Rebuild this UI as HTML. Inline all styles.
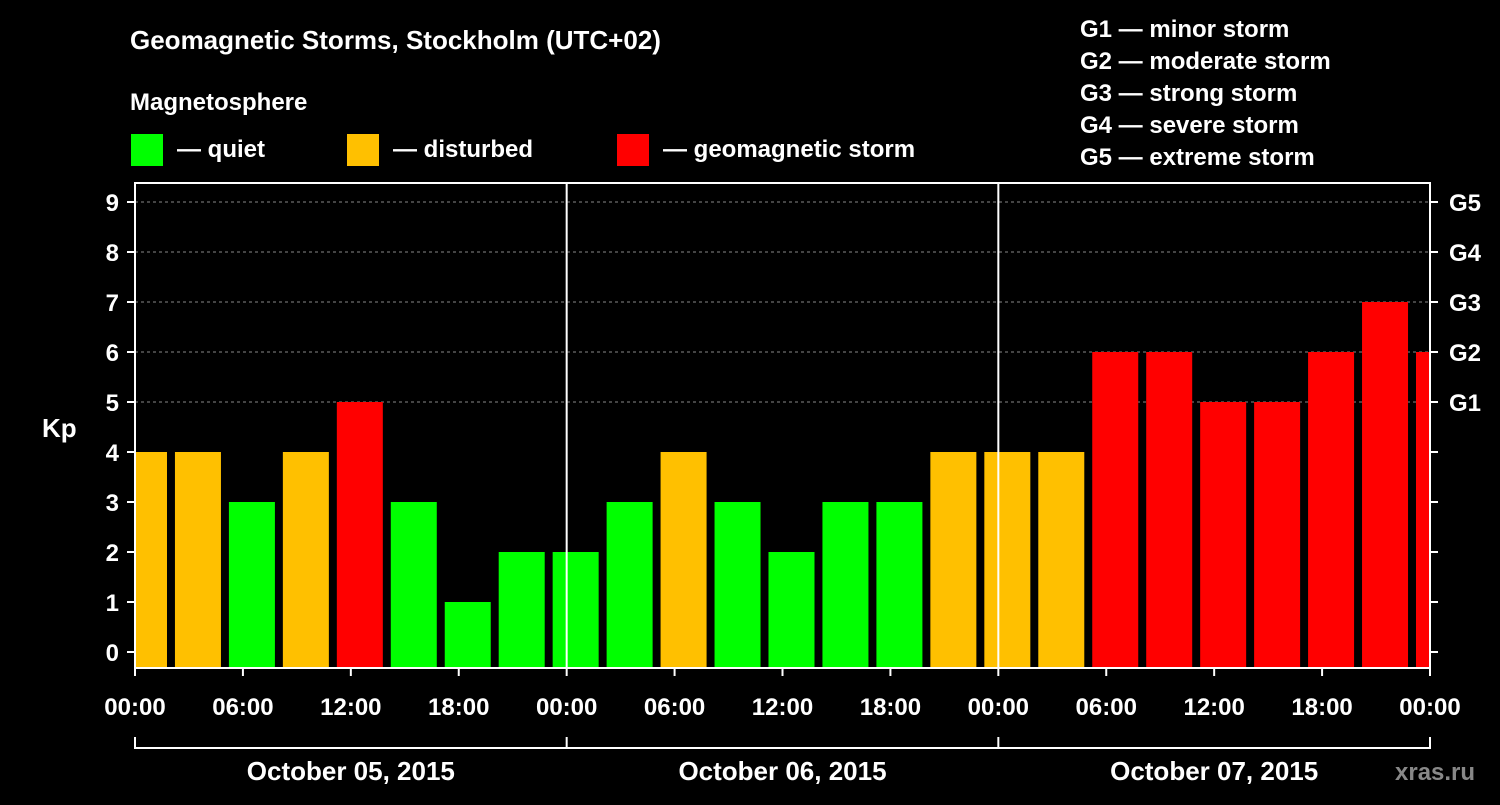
<!DOCTYPE html>
<html><head><meta charset="utf-8"><style>
body{margin:0;background:#000;}
svg text{font-family:"Liberation Sans",Arial,sans-serif;font-weight:bold;fill:#fff;}
</style></head><body>
<svg id="chart" width="1500" height="800" xmlns="http://www.w3.org/2000/svg">
<rect width="1500" height="800" fill="#000"/>
<text x="130" y="49" font-size="26">Geomagnetic Storms, Stockholm (UTC+02)</text>
<text x="130" y="110" font-size="24">Magnetosphere</text>
<g>
<rect x="131" y="134" width="32" height="32" fill="#00ff00"/>
<text x="177" y="157" font-size="24">— quiet</text>
<rect x="347" y="134" width="32" height="32" fill="#ffc000"/>
<text x="393" y="157" font-size="24">— disturbed</text>
<rect x="617" y="134" width="32" height="32" fill="#ff0000"/>
<text x="663" y="157" font-size="24">— geomagnetic storm</text>
</g>
<g font-size="24">
<text x="1080" y="37">G1 — minor storm</text>
<text x="1080" y="69">G2 — moderate storm</text>
<text x="1080" y="101">G3 — strong storm</text>
<text x="1080" y="133">G4 — severe storm</text>
<text x="1080" y="165">G5 — extreme storm</text>
</g>
<text x="42" y="437" font-size="26">Kp</text>
<g id="plot"></g>
<text x="1395" y="780" font-size="24" style="fill:#888">xras.ru</text>
</svg>
<script>
const kpValues=[4,4,3,4,5,3,1,2,2,3,4,3,2,3,3,4,4,4,6,6,5,5,6,7,6];
const xTickLabels=["00:00","06:00","12:00","18:00","00:00","06:00","12:00","18:00","00:00","06:00","12:00","18:00","00:00"];
const dayLabels=["October 05, 2015","October 06, 2015","October 07, 2015"];
const yTicks=[0,1,2,3,4,5,6,7,8,9];
const gLabels=["G1","G2","G3","G4","G5"];
const NS="http://www.w3.org/2000/svg";
const L=135,R=1430,T=183,B=668;
const pxPerHour=(R-L)/72;
const x=h=>L+h*pxPerHour;
const y=v=>652-v*50;
const g=document.getElementById('plot');
function mk(tag,attrs,parent){const e=document.createElementNS(NS,tag);for(const k in attrs)e.setAttribute(k,attrs[k]);(parent||g).appendChild(e);return e;}
const clip=mk('clipPath',{id:'pc'});mk('rect',{x:L,y:T,width:R-L,height:B-T},clip);
// grid
[5,6,7,8,9].forEach(v=>{const l=mk('line',{x1:L,x2:R,y1:y(v),y2:y(v),stroke:'#888','stroke-dasharray':'3,3','stroke-width':1});

});
// bars
const bg=mk('g',{'clip-path':'url(#pc)'});
kpValues.forEach((v,i)=>{const c=-1.5+3*i+2; const w=46;
const col=v>=5?'#ff0000':(v>=4?'#ffc000':'#00ff00');
const r=mk('rect',{x:x(c)-w/2,y:y(v),width:w,height:B-y(v),fill:col},bg);

});
// day separators
[24,48].forEach(h=>{const l=mk('line',{x1:x(h),x2:x(h),y1:T,y2:B,stroke:'#fff','stroke-width':2});

});
// frame
const fr=mk('rect',{x:L,y:T,width:R-L,height:B-T,fill:'none',stroke:'#fff','stroke-width':2});


// y ticks
yTicks.forEach(v=>{mk('line',{x1:L-8,x2:L,y1:y(v),y2:y(v),stroke:'#fff','stroke-width':2});
mk('line',{x1:R,x2:R+8,y1:y(v),y2:y(v),stroke:'#fff','stroke-width':2});
const t=mk('text',{x:L-16,y:y(v)+9,'font-size':24,'text-anchor':'end'});t.textContent=v;

});
gLabels.forEach((s,i)=>{const t=mk('text',{x:1449,y:y(5+i)+9,'font-size':24});t.textContent=s;

});
// x ticks
xTickLabels.forEach((s,i)=>{const xx=x(i*6);mk('line',{x1:xx,x2:xx,y1:B,y2:B+8,stroke:'#fff','stroke-width':2});
const t=mk('text',{x:xx,y:715,'font-size':24,'text-anchor':'middle'});t.textContent=s;

});
// day bracket
mk('line',{x1:L,x2:R,y1:748,y2:748,stroke:'#fff','stroke-width':2});
[0,24,48,72].forEach(h=>mk('line',{x1:x(h),x2:x(h),y1:737,y2:749,stroke:'#fff','stroke-width':2}));
dayLabels.forEach((s,i)=>{const t=mk('text',{x:x(12+24*i),y:780,'font-size':26,'text-anchor':'middle'});t.textContent=s;

});
</script>
</body></html>
